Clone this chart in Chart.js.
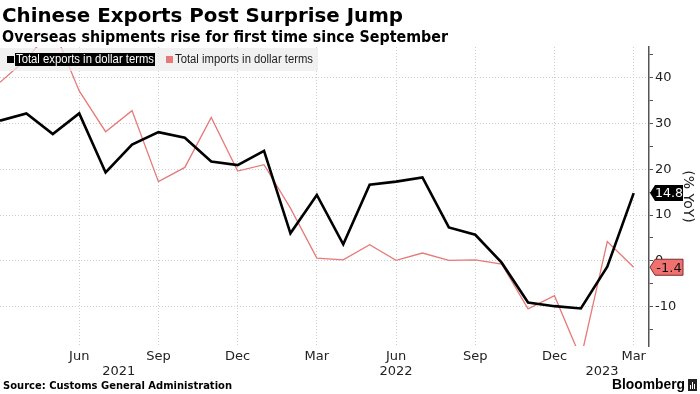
<!DOCTYPE html>
<html>
<head>
<meta charset="utf-8">
<script src="https://cdn.jsdelivr.net/npm/chart.js@4"></script>
<style>
  html, body { margin: 0; padding: 0; background: #fff; }
  #wrap { width: 700px; height: 394px; }
</style>
</head>
<body>
<div id="wrap"><canvas id="chart" width="700" height="394"></canvas></div>
<script>
// Monthly YoY change, Mar 2021 .. Mar 2023 (x = month index)
const months = [
    "2021-03", "2021-04", "2021-05", "2021-06", "2021-07", "2021-08", "2021-09",
    "2021-10", "2021-11", "2021-12", "2022-01", "2022-02", "2022-03", "2022-04",
    "2022-05", "2022-06", "2022-07", "2022-08", "2022-09", "2022-10", "2022-11",
    "2022-12", "2023-01", "2023-02", "2023-03",
];
const exportsYoY = [
    30.6, 32.2, 27.7, 32.2, 19.3, 25.4, 28.1, 26.9, 21.7, 20.9, 24.0, 6.0, 14.4,
    3.6, 16.6, 17.3, 18.2, 7.3, 5.7, -0.4, -9.1, -9.9, -10.4, -1.3, 14.8,
];
const importsYoY = [
    39.0, 44.0, 51.0, 37.1, 28.2, 32.8, 17.3, 20.4, 31.3, 19.6, 21.0, 11.5, 0.6,
    0.2, 3.5, 0.1, 1.7, 0.1, 0.2, -0.7, -10.5, -7.6, -21.3, 4.2, -1.4,
];

const xTickPos = [3, 6, 9, 12, 15, 18, 21, 24];
const xTickLabels = ["Jun", "Sep", "Dec", "Mar", "Jun", "Sep", "Dec", "Mar"];
const yearLabels = ["2021", "2022", "2023"];
const yearPos = [4.5, 15, 22.8];
const yTicks = [-15, -10, -5, 0, 5, 10, 15, 20, 25, 30, 35, 40, 45];

const FONT = "'DejaVu Sans', sans-serif";
const NARROW = "'Liberation Sans', Arial, sans-serif";
const EXPORT_COLOR = "#000000";
const IMPORT_COLOR = "#e57a78";

function toPoints(values) {
    return values.map((v, i) => ({ x: i, y: v }));
}

function valueTag(ctx, x, y, text, fill, stroke, textColor) {
    ctx.save();
    ctx.beginPath();
    ctx.moveTo(x + 1, y);
    ctx.lineTo(x + 6, y - 8);
    ctx.lineTo(x + 34, y - 8);
    ctx.lineTo(x + 34, y + 8);
    ctx.lineTo(x + 6, y + 8);
    ctx.closePath();
    ctx.fillStyle = fill;
    ctx.fill();
    if (stroke) {
        ctx.strokeStyle = stroke;
        ctx.lineWidth = 1;
        ctx.stroke();
    }
    ctx.fillStyle = textColor;
    ctx.font = "13px " + FONT;
    ctx.textAlign = "center";
    ctx.textBaseline = "middle";
    ctx.fillText(text, x + 20, y + 1, 28);
    ctx.restore();
}

const decorPlugin = {
    id: "decor",
    afterDraw(chart) {
        const { ctx, scales } = chart;
        const xs = scales.x;
        const ys = scales.y;
        ctx.save();

        // title + subtitle
        ctx.fillStyle = "#000";
        ctx.textAlign = "left";
        ctx.textBaseline = "alphabetic";
        ctx.font = "bold 20px " + FONT;
        ctx.fillText("Chinese Exports Post Surprise Jump", 2, 22, 401);
        ctx.font = "bold 15px " + FONT;
        ctx.fillText("Overseas shipments rise for first time since September", 2, 42, 446);

        // legend
        ctx.fillStyle = "rgba(236,236,236,0.75)";
        ctx.fillRect(0, 48, 318, 23);
        ctx.fillStyle = "#000";
        ctx.fillRect(7, 56, 7, 7);
        ctx.fillRect(15, 53, 140, 13);
        ctx.font = "12.5px " + NARROW;
        ctx.textBaseline = "middle";
        ctx.fillStyle = "#fff";
        ctx.fillText("Total exports in dollar terms", 16, 60, 138);
        ctx.fillStyle = IMPORT_COLOR;
        ctx.fillRect(166, 56, 7, 7);
        ctx.fillStyle = "#222";
        ctx.fillText("Total imports in dollar terms", 175, 60, 138);

        // x labels
        ctx.fillStyle = "#222";
        ctx.font = "13px " + FONT;
        ctx.textAlign = "center";
        xTickPos.forEach((p, i) => {
            ctx.fillText(xTickLabels[i], xs.getPixelForValue(p), 357);
        });
        yearPos.forEach((p, i) => {
            ctx.fillText(yearLabels[i], xs.getPixelForValue(p), 372);
        });

        // last value tags
        const axisX = chart.chartArea.right;
        const lastE = exportsYoY[exportsYoY.length - 1];
        const lastI = importsYoY[importsYoY.length - 1];
        valueTag(ctx, axisX, ys.getPixelForValue(lastE), lastE.toFixed(1), "#000", null, "#fff");
        valueTag(ctx, axisX, ys.getPixelForValue(lastI), lastI.toFixed(1), "#f07270", "#7a2a2a", "#111");

        // footer
        ctx.textAlign = "left";
        ctx.fillStyle = "#000";
        ctx.font = "bold 11px " + FONT;
        ctx.fillText("Source: Customs General Administration", 3, 386, 229);
        ctx.font = "bold 15.5px " + NARROW;
        ctx.fillText("Bloomberg", 612, 385, 73);
        // small logo
        ctx.fillStyle = "#222";
        ctx.fillRect(688, 379, 9, 12);
        ctx.fillStyle = "#fff";
        ctx.fillRect(690, 385, 1, 4);
        ctx.fillRect(692, 382, 1, 7);
        ctx.fillRect(694, 384, 1, 5);
        ctx.restore();
    },
};

const chart = new Chart(document.getElementById("chart"), {
    type: "line",
    data: {
        datasets: [
            {
                label: "Total exports in dollar terms",
                data: toPoints(exportsYoY),
                borderColor: EXPORT_COLOR,
                borderWidth: 2.6,
                pointRadius: 0,
                tension: 0,
            },
            {
                label: "Total imports in dollar terms",
                data: toPoints(importsYoY),
                borderColor: IMPORT_COLOR,
                borderWidth: 1.3,
                pointRadius: 0,
                tension: 0,
            },
        ],
    },
    options: {
        responsive: false,
        animation: false,
        devicePixelRatio: 1,
        layout: { padding: { top: 47, bottom: 48, left: 0, right: 0 } },
        plugins: {
            legend: { display: false },
            tooltip: { enabled: false },
            title: { display: false },
        },
        scales: {
            x: {
                type: "linear",
                min: 0,
                max: 24.58,
                afterBuildTicks: (s) => { s.ticks = xTickPos.map((v) => ({ value: v })); },
                afterFit: (s) => { s.height = 0; },
                ticks: { display: false },
                grid: { color: "#cfcfcf", lineWidth: 1, drawTicks: false },
                border: { display: false, dash: [1, 2] },
            },
            y: {
                position: "right",
                min: -18.6,
                max: 46.7,
                afterBuildTicks: (s) => { s.ticks = yTicks.map((v) => ({ value: v })); },
                afterFit: (s) => { s.width = 51; },
                grid: {
                    color: (c) => (c.tick && c.tick.value % 10 === 0 ? "#cfcfcf" : "rgba(0,0,0,0)"),
                    lineWidth: 1,
                    tickColor: "#555",
                    tickLength: 4,
                },
                border: { display: true, color: "#555", width: 1.5, dash: [1, 2] },
                ticks: {
                    callback: (v) => (v % 10 === 0 ? String(v) : ""),
                    font: { size: 13, family: FONT },
                    color: "#222",
                    padding: 2,
                },
                title: {
                    display: true,
                    text: "(% YoY)",
                    font: { size: 14, family: FONT },
                    color: "#222",
                    padding: { top: 4, bottom: 0 },
                },
            },
        },
    },
    plugins: [decorPlugin],
});
</script>
</body>
</html>
